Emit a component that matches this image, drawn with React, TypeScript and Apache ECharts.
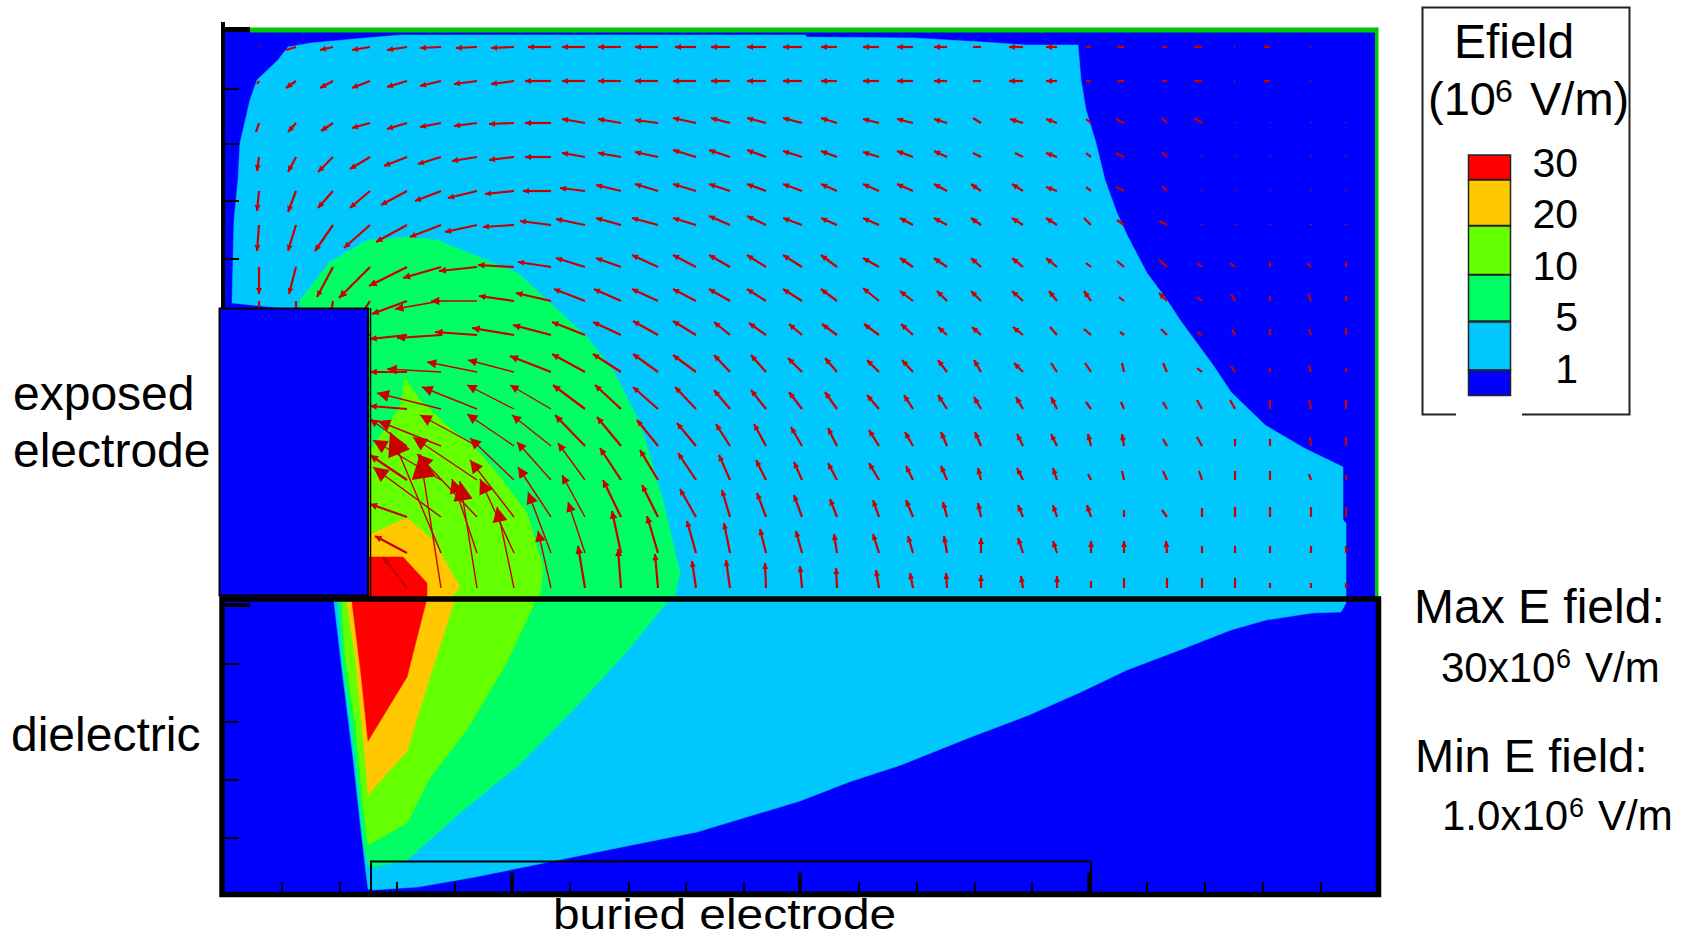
import React, { useEffect, useRef } from "react";
import * as echarts from "echarts";

type P = [number, number];
type V = [number, number] | null;

// Contour boundaries of the field (plot units, y downwards)
const level0: P[] = [[223, 30], [1377, 30], [1377, 892], [223, 892]];
const level1: P[] = [
  [300, 310], [232, 303], [234, 220], [238, 180], [240, 143], [250, 100], [257, 80], [278, 60], [288, 47], [311, 43], [365, 38], [401, 35],
  [805, 35], [807, 37], [914, 38], [983, 42], [1025, 45], [1078, 45], [1081, 80], [1086, 110], [1096, 143], [1105, 180], [1117, 213],
  [1128, 237], [1147, 273], [1167, 300], [1180, 320], [1213, 365], [1231, 392], [1265, 425], [1304, 448], [1343, 467], [1343, 520], [1346, 523],
  [1346, 603], [1341, 612], [1312, 613], [1266, 620], [1231, 630], [1185, 648], [1127, 670], [1081, 692], [1029, 715], [971, 737], [901, 765],
  [849, 782], [800, 801], [697, 832], [617, 848], [544, 863], [475, 877], [418, 887], [372, 890], [368, 889], [363, 848], [353, 758], [342, 670], [334, 602], [334, 596],
];
const level2: P[] = [
  [300, 310], [300, 300], [330, 262], [368, 240], [407, 237], [437, 240], [491, 262], [518, 273], [544, 297], [587, 337], [613, 370], [640, 423],
  [663, 500], [680, 573], [675, 596], [667, 602], [629, 649], [577, 706], [521, 763], [460, 813], [405, 862], [393, 863], [374, 867], [368, 866],
  [363, 840], [355, 758], [343, 670], [338, 602], [338, 596],
];
const level3: P[] = [
  [405, 378], [420, 400], [450, 428], [477, 450], [500, 477], [527, 513], [543, 567], [540, 596], [535, 602], [506, 664], [468, 728], [430, 778],
  [407, 823], [368, 845], [363, 805], [355, 724], [345, 657], [342, 602], [342, 596], [360, 460], [373, 447], [400, 407],
];
const level4: P[] = [
  [373, 533], [407, 518], [433, 540], [460, 587], [453, 596], [454, 602], [430, 677], [407, 751], [368, 795], [365, 758], [355, 657], [347, 602], [347, 596], [360, 540],
];
const level5: P[] = [
  [372, 557], [403, 557], [427, 583], [427, 596], [426, 602], [407, 677], [368, 741], [361, 674], [352, 602], [352, 596], [360, 557],
];

// Arrow grid: tail position of every column and row
const columnX = [259, 296, 333, 370, 407, 441, 477, 514, 551, 585, 621, 658, 696, 730, 766, 802, 837, 879, 913, 947, 981, 1023, 1057, 1091, 1124, 1167, 1202, 1235, 1270, 1311, 1346];
const rowY = [47, 81, 123, 157, 191, 225, 267, 301, 335, 372, 409, 446, 480, 517, 553, 588];

// Arrow vectors, tail to tip, one list per row
const row1: V[] = [[0, -1], [-10, 3], [-13, 3], [-18, 3], [-20, 3], [-21, 1], [-21, 1], [-23, 1], [-23, 0], [-23, 0], [-23, 0], [-23, 0], [-21, 0], [-19, 0], [-19, 0], [-19, 0], [-16, 0], [-16, 0], [-16, 0], [-13, 0], [-8, 0], [-14, 0], [-11, 0], [-5, 0], [-7, 0], [-5, 0], [-8, 0], [-1, 0], [-6, 0], [-1, 0], null];
const row2: V[] = [[-2, 3], [-10, 7], [-13, 7], [-18, 7], [-20, 6], [-21, 5], [-23, 3], [-23, 3], [-26, 0], [-23, 0], [-23, 0], [-23, 0], [-23, 0], [-19, 0], [-19, 0], [-19, 0], [-16, 0], [-16, 0], [-16, 0], [-13, 0], [-8, 0], [-14, 0], [-11, 0], [-5, 0], [-7, 0], [-5, 0], [-8, 0], [-1, 0], [-6, 0], [-1, 0], null];
const row3: V[] = [[-3, 9], [-8, 9], [-12, 8], [-18, 5], [-20, 6], [-21, 4], [-23, 3], [-25, 1], [-26, 0], [-23, -4], [-23, -4], [-23, -3], [-23, -5], [-19, -5], [-19, -5], [-19, -5], [-16, -5], [-16, -4], [-16, -4], [-13, -4], [-8, -5], [-13, -4], [-11, -4], [-5, -4], [-8, -4], [-5, -5], [-8, -5], [0, -1], [0, -1], [0, -1], [0, -1]];
const row4: V[] = [[-2, 14], [-8, 15], [-15, 15], [-20, 12], [-23, 9], [-23, 7], [-25, 4], [-25, 3], [-26, 0], [-23, -4], [-23, -4], [-23, -5], [-23, -7], [-21, -7], [-19, -7], [-19, -6], [-16, -6], [-16, -5], [-16, -6], [-13, -6], [-8, -4], [-8, -4], [-11, -4], [-5, -4], [-8, -4], [-5, -5], [0, -1], [0, -1], [0, -1], [0, -1], [0, -1]];
const row5: V[] = [[-2, 20], [-8, 21], [-15, 17], [-20, 17], [-26, 14], [-26, 10], [-29, 7], [-29, 3], [-28, 0], [-25, -3], [-25, -6], [-23, -7], [-23, -7], [-21, -7], [-19, -7], [-19, -7], [-16, -7], [-16, -7], [-16, -7], [-13, -7], [-10, -7], [-11, -7], [-11, -4], [-5, -4], [-8, -4], [-5, -5], [0, -1], [0, -1], [0, -1], [0, -1], [0, -1]];
const row6: V[] = [[-2, 26], [-8, 26], [-18, 26], [-26, 23], [-31, 17], [-31, 12], [-32, 7], [-31, 2], [-31, -4], [-29, -6], [-25, -7], [-26, -7], [-23, -7], [-21, -9], [-19, -9], [-19, -7], [-16, -7], [-16, -7], [-13, -7], [-13, -7], [-10, -7], [-11, -7], [-11, -7], [-7, -7], [-7, -5], [-8, -4], [0, -1], [0, -1], [0, -1], [0, -1], [0, -1]];
const row7: V[] = [[0, 27], [-7, 27], [-16, 30], [-31, 31], [-38, 19], [-38, 11], [-38, 4], [-36, -2], [-33, -5], [-29, -9], [-25, -9], [-26, -12], [-23, -12], [-21, -12], [-19, -12], [-19, -12], [-16, -12], [-16, -9], [-13, -9], [-13, -9], [-10, -9], [-11, -9], [-11, -9], [-5, -4], [-7, -6], [-8, -7], [-5, -4], [-5, -4], [0, -5], [-4, -4], [0, -5]];
const row8: V[] = [[0, 30], [0, 30], [-5, 30], [-20, 30], [-35, 13], [-46, 8], [-46, 0], [-35, -5], [-35, -8], [-31, -12], [-27, -12], [-26, -12], [-23, -12], [-21, -12], [-19, -12], [-19, -12], [-16, -12], [-16, -13], [-13, -10], [-10, -10], [-10, -10], [-11, -10], [-8, -10], [-7, -10], [-5, -4], [-8, -8], [-5, -4], [-4, -7], [0, -5], [-3, -7], [0, -5]];
const row9: V[] = [null, null, null, [-10, 2], [-37, 4], [-44, 3], [-42, -3], [-42, -7], [-38, -10], [-33, -13], [-28, -13], [-25, -14], [-23, -14], [-16, -13], [-17, -12], [-13, -11], [-15, -11], [-15, -11], [-12, -11], [-9, -8], [-9, -8], [-10, -8], [-7, -8], [-7, -6], [-4, -3], [-6, -6], [-5, -3], [-3, -6], [0, -6], [-2, -6], [0, -7]];
const row10: V[] = [null, null, null, null, [-37, 0], [-54, -3], [-50, -10], [-46, -12], [-41, -16], [-33, -18], [-28, -18], [-25, -18], [-23, -17], [-16, -17], [-15, -17], [-14, -14], [-12, -14], [-12, -12], [-11, -12], [-9, -12], [-7, -12], [-9, -9], [-6, -9], [-6, -9], [-2, -9], [-4, -9], [-5, -4], [-4, -6], [0, -4], [-2, -7], [0, -4]];
const row11: V[] = [null, null, null, null, [-37, -3], [-64, -16], [-55, -22], [-47, -24], [-41, -24], [-32, -24], [-26, -24], [-25, -22], [-21, -22], [-16, -19], [-15, -19], [-13, -17], [-12, -17], [-12, -14], [-9, -14], [-9, -14], [-7, -12], [-7, -12], [-6, -12], [-5, -7], [-3, -7], [-4, -7], [-5, -9], [-5, -9], [0, -9], [-2, -9], [0, -9]];
const row12: V[] = [null, null, null, null, [-37, -27], [-63, -25], [-57, -31], [-47, -32], [-39, -31], [-30, -31], [-24, -29], [-21, -26], [-19, -23], [-14, -22], [-12, -22], [-11, -19], [-9, -18], [-10, -16], [-8, -14], [-6, -14], [-6, -14], [-6, -12], [-6, -12], [-3, -12], [-2, -12], [-4, -7], [-5, -9], [0, -7], [0, -7], [-1, -9], [0, -9]];
const row13: V[] = [null, null, null, null, [-37, -25], [-68, -40], [-64, -43], [-44, -42], [-34, -38], [-27, -37], [-21, -32], [-18, -30], [-18, -27], [-11, -25], [-10, -20], [-8, -18], [-9, -17], [-10, -17], [-7, -14], [-6, -14], [-3, -12], [-6, -12], [-4, -12], [-3, -6], [-2, -9], [-4, -9], [-3, -9], [0, -9], [0, -9], [-2, -6], [0, -5]];
const row14: V[] = [null, null, null, null, [-37, -13], [-68, -50], [-60, -63], [-44, -57], [-33, -50], [-23, -42], [-18, -37], [-16, -32], [-16, -28], [-8, -27], [-9, -24], [-8, -22], [-7, -18], [-6, -17], [-7, -17], [-4, -15], [-3, -14], [-5, -12], [-4, -12], [-4, -12], [0, -7], [-5, -7], [0, -9], [0, -10], [0, -10], [0, -10], [0, -10]];
const row15: V[] = [null, null, null, null, [-32, -17], [-51, -121], [-25, -74], [-34, -74], [-23, -61], [-17, -51], [-9, -42], [-11, -37], [-9, -32], [-6, -30], [-6, -24], [-6, -22], [-3, -19], [-6, -19], [-5, -17], [-3, -17], [0, -15], [-5, -15], [-4, -12], [0, -12], [0, -12], [-1, -12], [0, -7], [0, -7], [0, -7], [0, -7], [0, -7]];
const row16: V[] = [null, null, null, null, [-24, -31], [-21, -134], [-17, -107], [-17, -81], [-13, -57], [-7, -42], [-3, -39], [-3, -34], [-4, -27], [-4, -28], [-1, -25], [-2, -22], [-1, -20], [-3, -18], [-3, -15], [-1, -15], [0, -13], [-2, -12], [0, -12], [0, -7], [0, -10], [0, -10], [0, -10], [0, -10], [0, -5], [0, -5], [0, -5]];

// Axis ticks of the two panels
const leftTicks = [89, 144, 201, 259, 605, 664, 722, 780, 838];
const bottomTicks = [282, 340, 397, 455, 570, 629, 686, 744, 859, 917, 975, 1032, 1147, 1205, 1263, 1321];
const bottomMajorTicks = [512, 800, 1089];

// Legend
const legendLabels = ["30", "20", "10", "5", "1"];
const levelColors = ["#0000ff", "#00c8ff", "#00ff64", "#64ff00", "#ffc800", "#ff0000"];

const FONT = '"Liberation Sans", Arial, sans-serif';
const ARROW = "#c80000";

const allRows = [row1, row2, row3, row4, row5, row6, row7, row8, row9, row10, row11, row12, row13, row14, row15, row16];
const arrowData: number[][] = [];
allRows.forEach((row, r) =>
  row.forEach((v, c) => {
    if (v) arrowData.push([columnX[c], rowY[r], v[0], v[1]]);
  })
);

function regionSeries(points: P[], color: string) {
  return {
    type: "custom",
    coordinateSystem: "cartesian2d",
    silent: true,
    clip: false,
    data: [points[0]],
    encode: { x: 0, y: 1 },
    renderItem: (_: any, api: any) => ({
      type: "polygon",
      shape: { points: points.map((p) => api.coord(p)) },
      style: { fill: color, stroke: color, lineWidth: 0.5 },
    }),
  };
}

function arrowSeries() {
  return {
    type: "custom",
    coordinateSystem: "cartesian2d",
    silent: true,
    clip: false,
    data: arrowData,
    encode: { x: 0, y: 1 },
    renderItem: (_: any, api: any) => {
      const x = api.value(0);
      const y = api.value(1);
      const a = api.coord([x, y]);
      const b = api.coord([x + api.value(2), y + api.value(3)]);
      const dx = b[0] - a[0];
      const dy = b[1] - a[1];
      const len = Math.hypot(dx, dy) || 1;
      const ux = dx / len;
      const uy = dy / len;
      const h = Math.max(6, len * 0.18);
      const w = h * 0.5;
      const children: any[] = [
        {
          type: "line",
          shape: { x1: a[0], y1: a[1], x2: b[0], y2: b[1] },
          style: { stroke: ARROW, lineWidth: len > 45 ? 1.4 : 2.2, lineCap: "butt" },
        },
      ];
      if (len >= 11) {
        children.push({
          type: "polygon",
          shape: {
            points: [
              [b[0], b[1]],
              [b[0] - ux * h - uy * w, b[1] - uy * h + ux * w],
              [b[0] - ux * h + uy * w, b[1] - uy * h - ux * w],
            ],
          },
          style: { fill: ARROW },
        });
      }
      return { type: "group", children };
    },
  };
}

function tickSeries(values: number[], vertical: boolean, from: number, to: number, width: number) {
  return {
    type: "custom",
    coordinateSystem: "cartesian2d",
    silent: true,
    clip: false,
    data: values.map((v) => (vertical ? [v, from] : [from, v])),
    encode: { x: 0, y: 1 },
    renderItem: (_: any, api: any) => {
      const a = api.coord([api.value(0), api.value(1)]);
      const b = vertical ? api.coord([api.value(0), to]) : api.coord([to, api.value(1)]);
      return { type: "line", z2: 5, shape: { x1: a[0], y1: a[1], x2: b[0], y2: b[1] }, style: { stroke: "#000", lineWidth: width } };
    },
  };
}

function label(text: string, x: number, base: number, size: number, align = "left", scaleX = 1) {
  return {
    type: "text",
    z: 60,
    x,
    y: base - size * 0.345,
    scaleX,
    style: { text, font: `${size}px ${FONT}`, fill: "#000", align, verticalAlign: "middle" },
  };
}

function box(x: number, y: number, w: number, h: number, fill: string, stroke: string, lineWidth: number) {
  return { type: "rect", z: 50, shape: { x, y, width: w, height: h }, style: { fill, stroke, lineWidth } };
}

export default function App() {
  const ref = useRef<HTMLDivElement>(null);
  useEffect(() => {
    const chart = echarts.init(ref.current!, undefined, { renderer: "svg" });
    chart.setOption({
      animation: false,
      backgroundColor: "#ffffff",
      grid: { left: 0, top: 0, right: 0, bottom: 0 },
      xAxis: { type: "value", min: 0, max: 1687, show: false },
      yAxis: { type: "value", min: 0, max: 938, inverse: true, show: false },
      series: [
        regionSeries(level0, levelColors[0]),
        regionSeries(level1, levelColors[1]),
        regionSeries(level2, levelColors[2]),
        regionSeries(level3, levelColors[3]),
        regionSeries(level4, levelColors[4]),
        regionSeries(level5, levelColors[5]),
        arrowSeries(),
        tickSeries(leftTicks, false, 225, 239, 2),
        tickSeries(bottomTicks, true, 882, 892, 2),
        tickSeries(bottomMajorTicks, true, 872, 892, 3.5),
      ],
      graphic: [
        // top and right green edge, left axis
        box(250, 27.5, 1127, 5, "#00c800", "transparent", 0),
        box(1375, 27.5, 3.5, 570, "#00c800", "transparent", 0),
        box(1376, 600, 1.5, 275, "#00c800", "transparent", 0),
        box(221, 22, 4, 290, "#000", "transparent", 0),
        box(221, 27, 29, 5, "#000", "transparent", 0),
        // exposed electrode
        box(219.5, 308.5, 148.5, 287, "#0000ff", "#000", 2),
        { type: "line", z: 50, shape: { x1: 370.5, y1: 308, x2: 370.5, y2: 596 }, style: { stroke: "#000", lineWidth: 1.5 } },
        // dielectric frame
        box(222, 599, 1156.5, 295.5, "transparent", "#000", 5.5),
        box(221, 603, 29, 4, "#000", "transparent", 0),
        // buried electrode
        box(371, 861.5, 720, 31, "transparent", "#000", 2),
        // legend
        box(1422.5, 7.5, 207, 407, "#fff", "#222", 2),
        box(1456, 412, 66, 5, "#fff", "transparent", 0),
        box(1468.5, 155, 42, 24.5, levelColors[5], "#222", 1.5),
        box(1468.5, 180, 42, 45.5, levelColors[4], "#222", 1.5),
        box(1468.5, 226, 42, 48.5, levelColors[3], "#222", 1.5),
        box(1468.5, 275, 42, 46, levelColors[2], "#222", 1.5),
        box(1468.5, 322, 42, 48, levelColors[1], "#222", 1.5),
        box(1468.5, 370.5, 42, 25, levelColors[0], "#222", 1.5),
        label("Efield", 1454, 58, 48),
        label("(10", 1428, 115, 47),
        label("6", 1495, 102, 32),
        label("V/m)", 1530, 115, 47),
        label(legendLabels[0], 1578, 177, 41, "right"),
        label(legendLabels[1], 1578, 228, 41, "right"),
        label(legendLabels[2], 1578, 280, 41, "right"),
        label(legendLabels[3], 1578, 331, 41, "right"),
        label(legendLabels[4], 1578, 383, 41, "right"),
        // annotations
        label("exposed", 13, 410, 48),
        label("electrode", 13, 467, 48),
        label("dielectric", 11, 751, 48),
        label("buried electrode", 553, 929, 42, "left", 1.14),
        label("Max E field:", 1414, 623, 48),
        label("30x10", 1441, 682, 42),
        label("6", 1556, 668, 27),
        label("V/m", 1585, 682, 42),
        label("Min E field:", 1415, 772, 47),
        label("1.0x10", 1442, 830, 42),
        label("6", 1569, 817, 27),
        label("V/m", 1598, 830, 42),
      ],
    });
    return () => chart.dispose();
  }, []);
  return <div ref={ref} style={{ position: "absolute", left: 0, top: 0, width: 1687, height: 938 }} />;
}
